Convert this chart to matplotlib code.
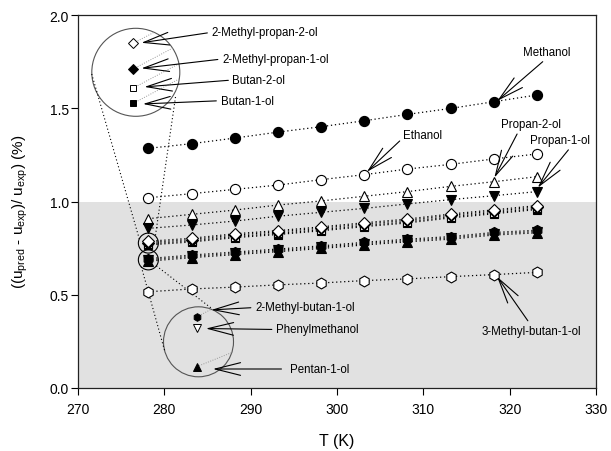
import matplotlib
matplotlib.use("Agg")
import matplotlib.pyplot as plt
from matplotlib.patches import Ellipse
import numpy as np

plt.rcParams['font.family'] = ['Liberation Sans', 'DejaVu Sans']
plt.rcParams['mathtext.fontset'] = 'custom'
plt.rcParams['mathtext.rm'] = 'Liberation Sans'
plt.rcParams['mathtext.it'] = 'Liberation Sans:italic'

# ---------------- data ----------------
T = [278.15, 283.15, 288.15, 293.15, 298.15, 303.15, 308.15, 313.15, 318.15, 323.15]
methanol = [1.285, 1.31, 1.34, 1.372, 1.401, 1.433, 1.467, 1.499, 1.535, 1.571]
ethanol = [1.02, 1.042, 1.065, 1.088, 1.117, 1.144, 1.174, 1.199, 1.228, 1.255]
propan_2_ol = [0.908, 0.931, 0.954, 0.981, 1.003, 1.028, 1.053, 1.081, 1.106, 1.133]
propan_1_ol = [0.856, 0.874, 0.895, 0.921, 0.942, 0.963, 0.987, 1.010, 1.031, 1.053]
methyl_propan_2_ol = [0.787, 0.803, 0.827, 0.844, 0.864, 0.886, 0.906, 0.933, 0.955, 0.978]
methyl_propan_1_ol = [0.780, 0.796, 0.820, 0.837, 0.857, 0.879, 0.899, 0.926, 0.948, 0.971]
butan_2_ol = [0.773, 0.789, 0.812, 0.829, 0.849, 0.871, 0.891, 0.918, 0.940, 0.963]
butan_1_ol = [0.767, 0.783, 0.806, 0.823, 0.843, 0.865, 0.885, 0.912, 0.934, 0.957]
methyl_butan_1_ol = [0.694, 0.713, 0.729, 0.745, 0.762, 0.781, 0.798, 0.812, 0.834, 0.846]
phenylmethanol = [0.687, 0.706, 0.722, 0.738, 0.755, 0.774, 0.791, 0.805, 0.827, 0.839]
pentan_1_ol = [0.680, 0.699, 0.715, 0.731, 0.748, 0.767, 0.784, 0.798, 0.820, 0.832]
methyl_butan_1_ol_3 = [0.516, 0.531, 0.541, 0.553, 0.563, 0.576, 0.585, 0.597, 0.608, 0.620]

xticks = [270, 280, 290, 300, 310, 320, 330]
yticks = [0.0, 0.5, 1.0, 1.5, 2.0]

# ---------------- figure ----------------
W, H = 611, 452
fig = plt.figure(figsize=(W / 100, H / 100), dpi=100)
L, R, TOP, BOT = 78, 596, 16, 389
ax = fig.add_axes([L / W, 1 - BOT / H, (R - L) / W, (BOT - TOP) / H])
xmin, xmax, ymin, ymax = 270, 330, 0.0, 2.0
ax.set_xlim(xmin, xmax)
ax.set_ylim(ymin, ymax)
sx = (R - L) / (xmax - xmin)
sy = (BOT - TOP) / (ymax - ymin)


def P(px, py):
    """pixel position -> data position (for annotation layout)"""
    return xmin + (px - L) / sx, ymin + (BOT - py) / sy


def D(x, y):
    return L + (x - xmin) * sx, BOT - (y - ymin) * sy


# grey band below 1.0
ax.axhspan(0, 1.0, color='#e1e1e1', zorder=0, lw=0)

dot = (0, (1, 2.2))
lw = 0.9
ms = 7.3
series = [
    (methanol, 'o', 'k', 'k', ms),
    (ethanol, 'o', 'white', 'k', ms),
    (propan_2_ol, '^', 'white', 'k', ms),
    (propan_1_ol, 'v', 'k', 'k', ms),
    (butan_1_ol, 's', 'k', 'k', 6),
    (butan_2_ol, 's', 'white', 'k', 6),
    (methyl_propan_1_ol, 'D', 'k', 'k', 6.2),
    (methyl_propan_2_ol, 'D', 'white', 'k', 6.2),
    (phenylmethanol, 'v', 'white', 'k', ms),
    (pentan_1_ol, '^', 'k', 'k', ms),
    (methyl_butan_1_ol, 'h', 'k', 'k', ms),
    (methyl_butan_1_ol_3, 'h', 'white', 'k', ms + 0.5),
]
for i, (vals, m, fc, ec, s) in enumerate(series):
    ax.plot(T, vals, linestyle=dot, color='k', lw=lw, marker=m, markersize=s,
            markerfacecolor=fc, markeredgecolor=ec, markeredgewidth=0.8, zorder=3 + i * 0.1)

# ---------------- zoom circles ----------------
def circle_px(cx, cy, r, **kw):
    x, y = P(cx, cy)
    e = Ellipse((x, y), 2 * r / sx, 2 * r / sy, fill=False, **kw)
    ax.add_patch(e)

# small circles around clusters at the first temperature
c_up = D(T[0], (methyl_propan_2_ol[0] + butan_1_ol[0]) / 2)
c_lo = D(T[0], (methyl_butan_1_ol[0] + pentan_1_ol[0]) / 2)
circle_px(c_up[0], c_up[1], 10, ec='k', lw=0.8, zorder=6)
circle_px(c_lo[0], c_lo[1], 10, ec='k', lw=0.8, zorder=6)

big_up = (135.8, 73.3, 44)
big_lo = (198.5, 342.8, 35)
circle_px(*big_up, ec='#555555', lw=0.8, zorder=2)
circle_px(*big_lo, ec='#555555', lw=0.8, zorder=2)


def line_px(p0, p1, **kw):
    a = P(*p0)
    b = P(*p1)
    ax.plot([a[0], b[0]], [a[1], b[1]], **kw)

conn = dict(color='k', lw=0.8, linestyle=(0, (1, 2.2)), zorder=2)
line_px((91.7, 75), (c_up[0] - 9, c_up[1] - 4), **conn)
line_px((175.5, 98), (c_up[0] + 7, c_up[1] - 7), **conn)
line_px((c_lo[0] - 7, c_lo[1] + 7), (165, 353), **conn)
line_px((c_lo[0] + 8, c_lo[1] + 6), (211.7, 309.5), **conn)

# magnified markers
inset_up = [(133.3, 44.3, 'D', 'white', 5), (133.3, 70, 'D', 'k', 5),
            (133.3, 89, 's', 'white', 5), (133.3, 104.3, 's', 'k', 5)]
inset_lo = [(196.7, 318, 'h', 'k', 5.5), (196.7, 328.5, 'v', 'white', 5.5),
            (196.7, 367.7, '^', 'k', 5.5)]
grey = dict(color='#999999', lw=0.7, linestyle=(0, (1, 1.5)), zorder=2)
for (px, py, m, fc, s) in inset_up:
    x, y = P(px, py)
    ax.plot([x], [y], marker=m, markersize=s, markerfacecolor=fc, markeredgecolor='k',
            markeredgewidth=0.7, zorder=5, linestyle='none')
    ang = np.deg2rad(28)
    cx, cy, r = big_up
    dx, dy = np.cos(ang), -np.sin(ang)
    ox, oy = px - cx, py - cy
    b = ox * dx + oy * dy
    t = -b + np.sqrt(b * b - (ox * ox + oy * oy - r * r))
    line_px((px, py), (px + t * dx, py + t * dy), **grey)
for (px, py, m, fc, s), ang in zip(inset_lo, [28, None, 22]):
    x, y = P(px, py)
    ax.plot([x], [y], marker=m, markersize=s, markerfacecolor=fc, markeredgecolor='k',
            markeredgewidth=0.7, zorder=5, linestyle='none')
    if ang is not None:
        cx, cy, r = big_lo
        a = np.deg2rad(ang)
        dx, dy = np.cos(a), -np.sin(a)
        ox, oy = px - cx, py - cy
        b = ox * dx + oy * dy
        t = -b + np.sqrt(b * b - (ox * ox + oy * oy - r * r))
        line_px((px, py), (px + t * dx, py + t * dy), **grey)

# ---------------- labels with arrows ----------------
fs = 8.3
arrow = dict(arrowstyle='->,head_length=2.2,head_width=0.55', color='k', lw=0.8,
             shrinkA=1, shrinkB=1)


def label(text, tip, txt, ha='left', va='center', relpos=(0, 0.5)):
    ap = dict(arrow)
    ap['relpos'] = relpos
    ax.annotate(text, xy=tip, xytext=P(*txt), ha=ha, va=va, fontsize=fs,
                arrowprops=ap, zorder=7)

label('2-Methyl-propan-2-ol', P(140, 44), (211.5, 33.3))
label('2-Methyl-propan-1-ol', P(140, 69.5), (222, 60))
label('Butan-2-ol', P(143, 88), (232.5, 81))
label('Butan-1-ol', P(141.5, 105), (220.5, 101.7))
label('2-Methyl-butan-1-ol', P(210, 311), (255, 308.5))
label('Phenylmethanol', P(204.5, 329.5), (276, 330.5))
label('Pentan-1-ol', P(211.5, 370), (290, 370), relpos=(-0.12, 0.5))

label('Methanol', (T[8] + 0.3, methanol[8]), (547, 59), ha='center', va='bottom', relpos=(0.5, 0))
label('Ethanol', (T[5] + 0.2, ethanol[5] + 0.01), (403.5, 136), relpos=(0, 0.3))
label('Propan-2-ol', (T[8], propan_2_ol[8] + 0.015), (531.5, 125), ha='center', relpos=(0.3, 0.05))
label('Propan-1-ol', (T[9], propan_1_ol[9] + 0.015), (560, 141), ha='center', relpos=(0.7, 0.05))
label('3-Methyl-butan-1-ol', (T[8] + 0.3, methyl_butan_1_ol_3[8] - 0.005), (531, 331.7),
      ha='center', relpos=(0.5, 0.95))

# ---------------- axes styling ----------------
ax.set_xticks(xticks)
ax.set_yticks(yticks)
ax.set_xticklabels([str(v) for v in xticks])
ax.set_yticklabels(['%.1f' % v for v in yticks])
ax.tick_params(axis='both', direction='out', length=5, width=0.8, labelsize=10)
ax.tick_params(axis='x', pad=5)
ax.tick_params(axis='y', pad=1.5)
ax.tick_params(top=False, right=False)
for s in ax.spines.values():
    s.set_linewidth(0.9)
    s.set_color('#222222')

ax.set_xlabel('T (K)', fontsize=11.5)
ax.xaxis.set_label_coords(0.5, (BOT - 441.7) / (BOT - TOP))
ax.xaxis.label.set_va('center')
ax.set_ylabel(r'((u$_\mathregular{pred}$ - u$_\mathregular{exp}$)/ u$_\mathregular{exp}$) (%)', fontsize=11)
ax.yaxis.set_label_coords((20 - L) / (R - L), (BOT - 212) / (BOT - TOP))
ax.yaxis.label.set_va('center')

fig.savefig('out.png', dpi=100)
